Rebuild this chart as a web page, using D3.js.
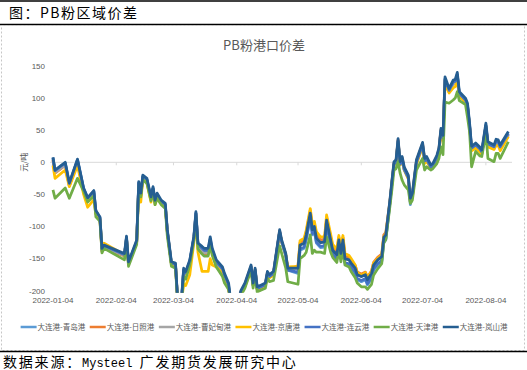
<!DOCTYPE html>
<html>
<head>
<meta charset="utf-8">
<script src="https://cdn.jsdelivr.net/npm/d3@7"></script>
<style>
  body { margin: 0; background: #fff; }
  text { font-family: "Noto Sans CJK SC", "Noto Sans", sans-serif; }
  .tick-label { font-family: "Liberation Sans", "DejaVu Sans", sans-serif; }
</style>
</head>
<body>
<div id="chart"></div>
<script>
// 日期（读图估计的拐点）
const dates = [
  "2022-01-04","2022-01-05","2022-01-10","2022-01-12","2022-01-16","2022-01-19","2022-01-21","2022-01-24","2022-01-25","2022-01-27","2022-01-28","2022-01-29",
  "2022-02-08","2022-02-09","2022-02-10","2022-02-14","2022-02-15","2022-02-16","2022-02-17","2022-02-19","2022-02-21","2022-02-22","2022-02-23","2022-02-24","2022-02-26","2022-02-28",
  "2022-03-01","2022-03-03","2022-03-05","2022-03-06","2022-03-08","2022-03-09","2022-03-10","2022-03-12","2022-03-14","2022-03-15","2022-03-16",
  "2022-03-18","2022-03-19","2022-03-21","2022-03-22","2022-03-23","2022-03-25","2022-03-28","2022-03-29","2022-03-31",
  "2022-04-01","2022-04-04","2022-04-06","2022-04-08","2022-04-11","2022-04-12","2022-04-13","2022-04-14","2022-04-16","2022-04-18","2022-04-19","2022-04-20","2022-04-22","2022-04-25","2022-04-26","2022-04-28","2022-04-29",
  "2022-05-04","2022-05-05","2022-05-07","2022-05-08","2022-05-10","2022-05-11","2022-05-12","2022-05-13","2022-05-15","2022-05-17","2022-05-18","2022-05-20","2022-05-21","2022-05-23","2022-05-24","2022-05-25","2022-05-26","2022-05-27","2022-05-29","2022-05-30",
  "2022-06-01","2022-06-02","2022-06-04","2022-06-06","2022-06-07","2022-06-09","2022-06-10","2022-06-12","2022-06-14","2022-06-15","2022-06-16",
  "2022-06-18","2022-06-19","2022-06-20","2022-06-21","2022-06-22","2022-06-23","2022-06-24","2022-06-25","2022-06-27","2022-06-28","2022-06-29",
  "2022-07-01","2022-07-04","2022-07-05","2022-07-06","2022-07-08","2022-07-09","2022-07-11","2022-07-12","2022-07-13","2022-07-14",
  "2022-07-15","2022-07-17","2022-07-19","2022-07-20","2022-07-21","2022-07-22","2022-07-25","2022-07-26","2022-07-27","2022-07-28","2022-07-30",
  "2022-08-01","2022-08-02","2022-08-04","2022-08-05","2022-08-08","2022-08-09","2022-08-10","2022-08-11","2022-08-15"
];

const qingdao = [
  6,-14,-2,-34,3,-42,-57,-46,-77,-87,-136,-131,
  -145,-118,-158,-124,-33,-51,-23,-28,-57,-41,-62,-51,-62,-67,
  -108,-158,-160,-213,-213,-168,-173,-155,-118,-80,-129,
  -136,-139,-139,-121,-139,-157,-168,-178,-193,
  -218,-228,-203,-191,-163,-191,-168,-197,-194,-191,-173,-178,-173,-108,-124,-145,-168,
  -173,-137,-134,-121,-87,-113,-108,-126,-133,-132,-98,-129,-145,-152,-129,-150,-129,-158,-160,-165,
  -173,-183,-186,-183,-191,-181,-168,-160,-155,-125,-121,
  -64,-33,-4,-1,32,-4,4,-12,-25,-66,-53,
  -1,26,1,4,-9,-7,6,17,48,37,
  129,111,124,125,136,106,96,88,58,21,26,
  20,15,57,28,23,32,31,23,44
];
const rizhao = [
  3,-17,-5,-37,0,-45,-60,-49,-80,-90,-139,-134,
  -146,-119,-159,-125,-34,-52,-24,-29,-58,-42,-63,-52,-63,-68,
  -109,-159,-161,-214,-214,-169,-174,-156,-119,-81,-130,
  -140,-143,-143,-125,-143,-161,-172,-182,-197,
  -217,-227,-202,-190,-162,-190,-167,-196,-193,-190,-172,-177,-172,-107,-123,-144,-167,
  -161,-125,-122,-109,-75,-101,-96,-114,-121,-120,-86,-117,-133,-140,-117,-138,-117,-146,-148,-153,
  -161,-171,-174,-171,-179,-169,-156,-148,-143,-113,-109,
  -61,-30,-1,2,35,-1,7,-9,-22,-58,-50,
  2,29,4,7,-6,-4,9,20,51,40,
  128,110,123,124,135,105,95,87,57,20,25,
  19,14,56,27,22,31,30,22,43
];
const caofeidian = [
  4,-16,-4,-36,1,-44,-59,-48,-79,-89,-138,-133,
  -145,-118,-158,-124,-33,-51,-23,-28,-57,-41,-62,-51,-62,-67,
  -108,-158,-160,-213,-213,-168,-173,-155,-118,-80,-129,
  -138,-141,-141,-123,-141,-159,-170,-180,-195,
  -218,-228,-203,-191,-163,-191,-168,-197,-194,-191,-173,-178,-173,-108,-124,-145,-168,
  -165,-129,-126,-113,-79,-105,-100,-118,-125,-124,-90,-121,-137,-144,-121,-142,-121,-150,-152,-157,
  -165,-175,-178,-175,-183,-173,-160,-152,-147,-117,-113,
  -62,-31,-2,1,34,-2,6,-10,-23,-59,-51,
  1,28,3,6,-7,-5,8,19,50,39,
  127,109,122,123,134,104,94,86,56,19,24,
  18,13,55,26,21,30,29,21,42
];
const jingtang = [
  -5,-25,-12,-38,-5,-50,-70,-58,-80,-88,-135,-126,
  -144,-120,-157,-124,-40,-62,-26,-32,-62,-45,-66,-55,-64,-68,
  -108,-158,-160,-212,-215,-190,-192,-175,-125,-85,-140,
  -170,-170,-170,-150,-160,-163,-172,-180,-195,
  -218,-228,-205,-194,-166,-192,-170,-198,-196,-192,-175,-180,-176,-110,-124,-144,-163,
  -162,-122,-118,-106,-72,-96,-92,-108,-116,-116,-82,-112,-128,-135,-114,-134,-114,-142,-145,-150,
  -160,-172,-176,-172,-180,-170,-157,-150,-145,-116,-112,
  -63,-33,-4,-1,30,-4,3,-12,-26,-62,-55,
  -3,24,-2,2,-10,-8,4,14,44,34,
  122,108,116,118,128,102,94,86,56,18,22,
  16,12,56,24,20,26,26,18,40
];
const lianyungang = [
  7,-13,-1,-33,4,-41,-56,-45,-76,-86,-135,-130,
  -144,-117,-157,-123,-32,-50,-22,-27,-56,-40,-61,-50,-61,-66,
  -107,-157,-159,-212,-212,-167,-172,-154,-117,-79,-128,
  -134,-137,-137,-119,-137,-155,-166,-176,-191,
  -218,-228,-203,-191,-163,-191,-168,-197,-194,-191,-173,-178,-173,-108,-124,-145,-168,
  -171,-135,-132,-119,-85,-111,-106,-124,-131,-130,-96,-127,-143,-150,-127,-148,-127,-156,-158,-163,
  -171,-181,-184,-181,-189,-179,-166,-158,-153,-123,-119,
  -63,-32,-3,0,33,-3,5,-11,-24,-62,-52,
  0,27,2,5,-8,-6,7,18,49,38,
  130,112,125,126,137,107,97,89,59,22,27,
  21,16,58,29,24,33,32,24,45
];
const tianjin = [
  -43,-56,-40,-56,-25,-45,-62,-52,-85,-92,-141,-134,
  -152,-124,-162,-128,-38,-54,-27,-33,-60,-46,-66,-56,-66,-72,
  -115,-162,-165,-215,-218,-178,-182,-160,-122,-86,-135,
  -143,-146,-146,-128,-145,-163,-178,-188,-198,
  -222,-230,-208,-196,-168,-196,-173,-202,-199,-196,-180,-186,-184,-130,-142,-165,-186,
  -190,-150,-145,-140,-113,-142,-137,-140,-140,-142,-116,-140,-148,-156,-136,-155,-136,-160,-163,-170,
  -180,-188,-194,-194,-198,-190,-176,-166,-158,-126,-120,
  -69,-42,-12,-10,1,-17,-28,-35,-43,-64,-59,
  -12,6,-12,-7,-12,-10,-2,6,24,12,
  94,92,97,100,110,96,90,70,48,-7,17,
  10,9,45,6,1,14,14,6,32
];
const lanshan = [
  8,-12,0,-32,5,-40,-55,-44,-75,-85,-134,-129,
  -142,-115,-155,-121,-30,-48,-20,-25,-54,-38,-59,-48,-59,-64,
  -105,-155,-157,-210,-210,-165,-170,-152,-115,-77,-126,
  -131,-134,-134,-116,-134,-152,-163,-173,-188,
  -215,-225,-200,-188,-160,-188,-165,-194,-191,-188,-170,-175,-170,-105,-121,-142,-165,
  -165,-129,-126,-113,-79,-105,-100,-118,-125,-124,-90,-121,-137,-144,-121,-142,-121,-150,-152,-157,
  -165,-175,-178,-175,-183,-173,-160,-152,-147,-117,-113,
  -59,-28,1,4,37,1,9,-7,-20,-56,-48,
  4,31,6,9,-4,-2,11,22,53,42,
  133,115,128,129,140,110,100,92,62,25,30,
  24,19,61,32,27,36,35,27,48
];

const seriesNames = ["大连港-青岛港","大连港-日照港","大连港-曹妃甸港","大连港-京唐港","大连港-连云港","大连港-天津港","大连港-岚山港"];
const seriesColors = ["#5B9BD5","#ED7D31","#A5A5A5","#FFC000","#4472C4","#70AD47","#255E91"];
const seriesValues = [qingdao, rizhao, caofeidian, jingtang, lianyungang, tianjin, lanshan];

const xTickLabels = ["2022-01-04","2022-02-04","2022-03-04","2022-04-04","2022-05-04","2022-06-04","2022-07-04","2022-08-04"];
const yTickValues = [150,100,50,0,-50,-100,-150,-200];

const width = 527;
const height = 370;
const parse = d3.timeParse("%Y-%m-%d");

const svg = d3.select("#chart")
    .append("svg")
    .attr("width", width)
    .attr("height", height);

// 外框
svg.append("line").attr("x1", 0).attr("x2", width).attr("y1", 1).attr("y2", 1)
    .attr("stroke", "#000").attr("stroke-width", 1.5);
svg.append("line").attr("x1", 0).attr("x2", width).attr("y1", 24.5).attr("y2", 24.5)
    .attr("stroke", "#000").attr("stroke-width", 1.5);
svg.append("rect").attr("x", 1.5).attr("y", 25.5).attr("width", 523).attr("height", 325)
    .attr("fill", "none").attr("stroke", "#c6c6c6").attr("stroke-dasharray", "2,2");
svg.append("line").attr("x1", 0).attr("x2", width).attr("y1", 351.5).attr("y2", 351.5)
    .attr("stroke", "#000").attr("stroke-width", 1.5);

svg.append("text").attr("x", 9).attr("y", 17.5)
    .style("font-size", "14px").style("letter-spacing", "1.5px").attr("fill", "#000")
    .text("图：PB粉区域价差");

const foot = svg.append("text").attr("x", 3).attr("y", 367)
    .style("font-size", "14px").style("letter-spacing", "1.8px").attr("fill", "#000");
foot.append("tspan").text("数据来源：");
foot.append("tspan").style("font-family", "'Liberation Mono', monospace").style("font-size", "12px")
    .style("letter-spacing", "0px").text("Mysteel ");
foot.append("tspan").text("广发期货发展研究中心");

// 图表标题
svg.append("text").attr("x", 264).attr("y", 50).attr("text-anchor", "middle")
    .style("font-size", "13px").attr("fill", "#595959").text("PB粉港口价差");

const x = d3.scaleTime()
    .domain([new Date(2022, 0, 2, 13), new Date(2022, 7, 16, 19)])
    .range([50, 512]);
const y = d3.scaleLinear().domain([-200, 150]).range([290.7, 66]);

// y 轴刻度文字
svg.append("g").selectAll("text")
    .data(yTickValues)
    .enter()
    .append("text")
    .attr("class", "tick-label")
    .attr("x", 45)
    .attr("y", d => y(d))
    .attr("dy", "0.35em")
    .attr("text-anchor", "end")
    .style("font-size", "8px")
    .attr("fill", "#595959")
    .text(d => d);

svg.append("text")
    .attr("transform", "translate(24," + y(0) + ") rotate(-90)")
    .attr("text-anchor", "middle")
    .attr("dy", "0.35em")
    .style("font-size", "8px")
    .attr("fill", "#595959")
    .text("元/吨");

// 0 轴与刻度
svg.append("line").attr("x1", 50).attr("x2", 512).attr("y1", y(0)).attr("y2", y(0))
    .attr("stroke", "#d9d9d9").attr("stroke-width", 1);
svg.append("g").selectAll("line")
    .data(xTickLabels)
    .enter()
    .append("line")
    .attr("x1", d => x(parse(d)))
    .attr("x2", d => x(parse(d)))
    .attr("y1", y(0))
    .attr("y2", y(0) + 3)
    .attr("stroke", "#d9d9d9");

svg.append("g").selectAll("text")
    .data(xTickLabels)
    .enter()
    .append("text")
    .attr("class", "tick-label")
    .attr("x", d => x(parse(d)))
    .attr("y", 303)
    .attr("text-anchor", "middle")
    .style("font-size", "8px")
    .attr("fill", "#595959")
    .text(d => d);

// 折线
svg.append("clipPath").attr("id", "plot-clip")
    .append("rect").attr("x", 45).attr("y", 55).attr("width", 475).attr("height", y(-200) + 2 - 55);

const line = d3.line()
    .x((d, i) => x(parse(dates[i])))
    .y(d => y(d));

svg.append("g")
    .attr("clip-path", "url(#plot-clip)")
    .selectAll("path")
    .data(seriesValues)
    .enter()
    .append("path")
    .attr("d", d => line(d))
    .attr("fill", "none")
    .attr("stroke", (d, i) => seriesColors[i])
    .attr("stroke-width", 2.75)
    .attr("stroke-linejoin", "round");

// 图例
const legend = svg.append("g").attr("transform", "translate(0,327)");
const items = legend.selectAll("g")
    .data(seriesNames)
    .enter()
    .append("g");
items.append("line")
    .attr("x1", 0).attr("x2", 16).attr("y1", 0).attr("y2", 0)
    .attr("stroke", (d, i) => seriesColors[i])
    .attr("stroke-width", 2.5);
items.append("text")
    .attr("x", 17)
    .attr("dy", "0.35em")
    .style("font-size", "7.5px")
    .attr("fill", "#595959")
    .text(d => d);

const widths = [];
items.each(function () {
    const w = 17 + d3.select(this).select("text").node().getComputedTextLength();
    widths.push(w);
});
const gap = 4.5;
const total = d3.sum(widths) + gap * (widths.length - 1);
let start = 264 - total / 2;
items.attr("transform", (d, i) => {
    const t = "translate(" + start + ",0)";
    start += widths[i] + gap;
    return t;
});
</script>
</body>
</html>
